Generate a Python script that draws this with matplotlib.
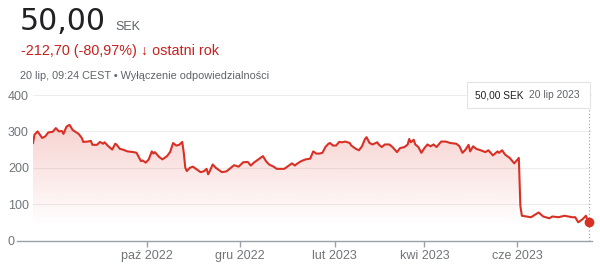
import matplotlib.pyplot as plt
import matplotlib.dates as mdates
import numpy as np
import pandas as pd

plt.rcParams['font.family'] = ['Liberation Sans', 'DejaVu Sans']

# dane (dni od poczatku zakresu, kurs w SEK)
start = '2022-07-18'
day_offsets = [0, 1, 3, 6, 8, 10, 13, 15, 17, 19, 20, 22, 24, 26, 30, 32, 33, 36, 38, 39,
               42, 44, 46, 47, 49, 52, 54, 55, 57, 59, 62, 66, 68, 70, 71, 72, 74, 76, 78, 79,
               80, 83, 85, 88, 90, 92, 94, 96, 98, 99, 100, 101, 103, 105, 107, 110, 112, 114, 115, 116,
               118, 120, 124, 127, 130, 132, 135, 138, 141, 143, 145, 148, 151, 153, 155, 158, 160, 163, 165, 167,
               170, 172, 173, 176, 179, 182, 184, 186, 188, 190, 192, 194, 195, 197, 199, 201, 203, 205, 208, 209,
               212, 214, 216, 218, 219, 221, 223, 226, 227, 229, 231, 234, 236, 239, 241, 244, 246, 247, 248, 250,
               251, 253, 255, 257, 259, 261, 263, 265, 268, 271, 274, 278, 280, 282, 284, 286, 287, 289, 291, 294,
               297, 299, 302, 305, 306, 308, 310, 313, 316, 319, 320, 321, 324, 327, 332, 335, 339, 341, 345, 349,
               354, 356, 358, 361, 363, 365]
prices = [268, 291, 300, 282, 286, 297, 299, 309, 300, 301, 293, 313, 318, 304, 293, 282, 271, 272, 274, 263,
          263, 271, 266, 270, 261, 250, 266, 263, 252, 250, 245, 243, 241, 225, 218, 220, 214, 223, 245, 239,
          243, 229, 223, 232, 243, 268, 261, 263, 271, 241, 200, 191, 200, 203, 197, 188, 190, 197, 182, 190,
          209, 200, 188, 190, 200, 207, 203, 215, 216, 206, 214, 223, 232, 218, 209, 203, 197, 197, 197, 203,
          212, 206, 210, 218, 223, 225, 245, 239, 239, 241, 257, 266, 268, 261, 261, 271, 270, 272, 268, 261,
          252, 248, 259, 279, 284, 268, 264, 270, 264, 257, 264, 264, 257, 243, 254, 257, 264, 279, 270, 277,
          264, 257, 241, 254, 264, 259, 264, 257, 272, 272, 268, 266, 259, 241, 250, 263, 245, 259, 252, 248,
          243, 248, 234, 245, 241, 248, 236, 227, 212, 227, 95, 68, 66, 64, 77, 66, 61, 66, 64, 68,
          64, 64, 50, 59, 68, 50]
tick_dates = ['2022-10-01', '2022-12-01', '2023-02-01', '2023-04-01', '2023-06-01']
tick_labels = ['paź 2022', 'gru 2022', 'lut 2023', 'kwi 2023', 'cze 2023']
y_ticks = [0, 100, 200, 300, 400]

red = '#d93025'
grey = '#70757a'

dates = pd.Timestamp(start) + pd.to_timedelta(day_offsets, unit='D')
x = mdates.date2num(dates)

fig = plt.figure(figsize=(6, 2.67), dpi=100)
ax = fig.add_axes([33 / 600, 1 - 240.5 / 267, 559 / 600, (240.5 - 95) / 267])

x0 = x[0]
x1 = x[0] + 559 / 1.523
ax.set_xlim(x0, x1)
ax.set_ylim(0, 400)

# gradient pod linia
n = 256
yy = np.linspace(0, 400, n)
alpha = np.clip((yy - 40) / 280, 0, 1) * 0.22
img = np.zeros((n, 1, 4))
img[:, 0, :3] = np.array([217, 48, 37]) / 255
img[:, 0, 3] = alpha
im = ax.imshow(img, extent=[x0, x1, 0, 400], origin='lower', aspect='auto', zorder=1)
poly = ax.fill_between(x, prices, 0, color='none', lw=0)
im.set_clip_path(poly.get_paths()[0], transform=ax.transData)

for v in y_ticks[1:]:
    ax.axhline(v, color='#ededed', lw=0.8, zorder=0)
ax.axhline(0, xmin=-16.5 / 559, xmax=1, color='#9aa0a6', lw=1, clip_on=False, zorder=2)

ax.plot([x[-1], x[-1]], [0, 364], color='#9aa0a6', lw=0.8, ls=(0, (1, 2)), zorder=2, clip_on=False)
ax.plot(x, prices, color=red, lw=1.5, zorder=3, solid_joinstyle='round')
ax.plot(x[-1], prices[-1], 'o', color=red, ms=6, zorder=4, clip_on=False)

for s in ax.spines.values():
    s.set_visible(False)

ax.set_xticks(mdates.date2num(pd.to_datetime(tick_dates)))
ax.set_xticklabels(tick_labels)
ax.tick_params(axis='x', length=4.5, color='#9aa0a6', width=1, labelsize=9, labelcolor=grey, pad=2)
ax.set_yticks(y_ticks)
ax.tick_params(axis='y', length=0, pad=18, labelsize=9, labelcolor=grey)
for lbl in ax.get_yticklabels():
    lbl.set_ha('left')

# naglowek
fig.text(20 / 600, 1 - 29.5 / 267, '50,00', fontsize=21.5, color='#202124',
         family='DejaVu Sans', va='baseline')
fig.text(115 / 600, 1 - 29.5 / 267, 'SEK', fontsize=9, color='#5f6368', va='baseline')
fig.text(21 / 600, 1 - 55 / 267, '-212,70 (-80,97%) ↓ ostatni rok', fontsize=10.4,
         color='#c5221f', va='baseline')
fig.text(20 / 600, 1 - 79 / 267, '20 lip, 09:24 CEST • Wyłączenie odpowiedzialności',
         fontsize=7.8, color='#5f6368', va='baseline')

# dymek
fig.patches.append(plt.Rectangle((467 / 600, 1 - 108 / 267), 123 / 600, 26 / 267,
                                 transform=fig.transFigure, fc='white', ec='#e3e3e3', lw=0.8, zorder=5))
fig.text(475 / 600, 1 - 98.5 / 267, '50,00 SEK', fontsize=7.3, color='#202124', va='baseline', zorder=6)
fig.text(529 / 600, 1 - 98.5 / 267, '20 lip 2023', fontsize=7.4, color='#5f6368', va='baseline', zorder=6)

fig.savefig('out.png', dpi=100, facecolor='white')
